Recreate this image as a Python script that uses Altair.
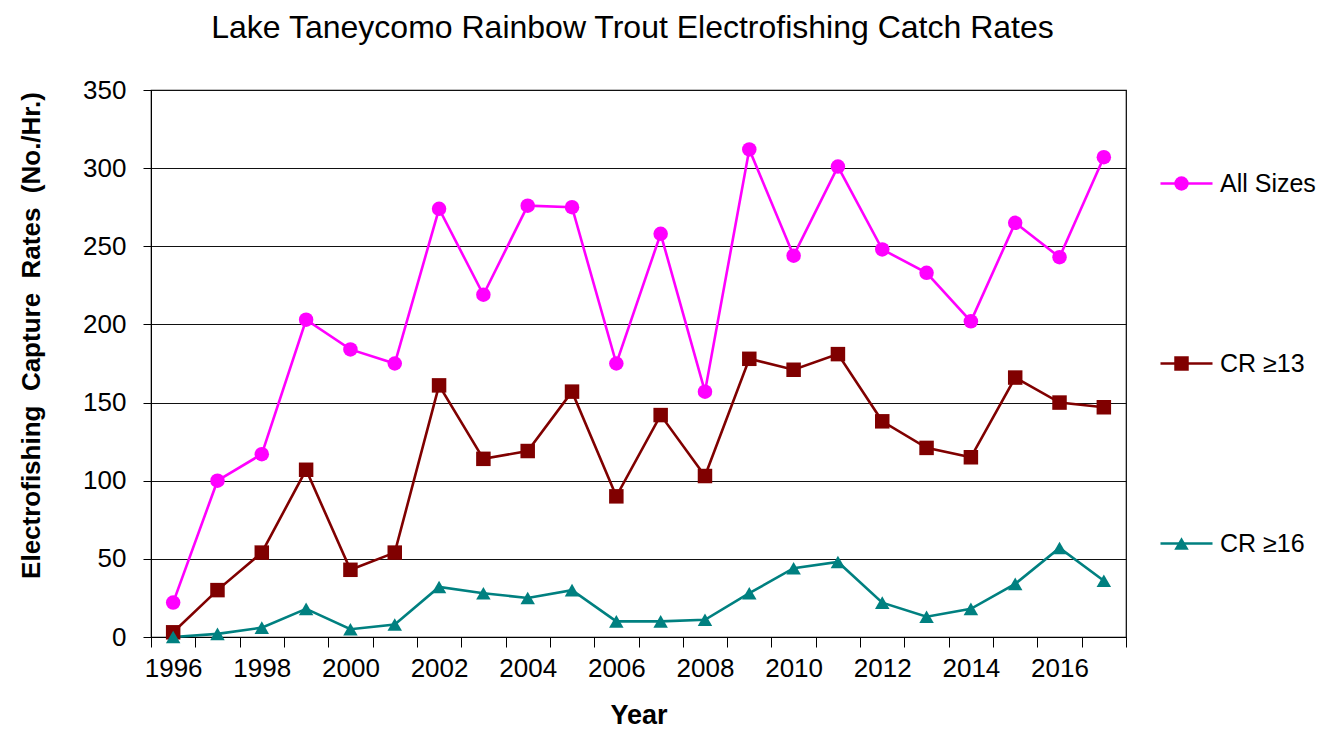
import altair as alt
import pandas as pd

years = list(range(1996, 2018))
all_sizes = [22, 100, 117, 203, 184, 175, 274, 219, 276, 275, 175, 258, 157, 312, 244, 301, 248, 233, 202, 265, 243, 307]
cr_13 = [3, 30, 54, 107, 43, 54, 161, 114, 119, 157, 90, 142, 103, 178, 171, 181, 138, 121, 115, 166, 150, 147]
cr_16 = [0, 2, 6, 18, 5, 8, 32, 28, 25, 30, 10, 10, 11, 28, 44, 48, 22, 13, 18, 34, 57, 36]

series_names = ["All Sizes", "CR ≥13", "CR ≥16"]
series_colors = ["#FF00FF", "#800000", "#008080"]
marker_shapes = ["circle", "square", "triangle-up"]

series_col = [s for s, vals in zip(series_names, (all_sizes, cr_13, cr_16)) for _ in vals]
df = pd.DataFrame({
    "year": years * 3,
    "series": series_col,
    "marker": series_col,  # second copy so the marker legend stays separate from the line legend
    "rate": all_sizes + cr_13 + cr_16,
})

FONT = "Liberation Sans"
MARK_SIZE = 210

# line keys of the legend (visible labels)
line_legend = alt.Legend(
    title=None,
    orient="none",
    legendX=1008,
    legendY=66,
    padding=0,
    symbolType="stroke",
    symbolSize=2704,
    symbolStrokeWidth=2.5,
    labelFont=FONT,
    labelFontSize=25,
    labelColor="black",
    labelOffset=6,
    rowPadding=139,
)
# marker keys drawn over the middle of the line keys, without labels
marker_legend = alt.Legend(
    title=None,
    orient="none",
    legendX=1023,
    legendY=86,
    padding=0,
    symbolSize=MARK_SIZE,
    symbolStrokeWidth=0,
    labelExpr="''",
    labelOpacity=0,
    rowPadding=165,
)

x = alt.X(
    "year:O",
    title="Year",
    scale=alt.Scale(type="band", paddingInner=0, paddingOuter=0),
    axis=alt.Axis(
        tickBand="extent",
        labelExpr="datum.value % 2 === 0 ? datum.label : ''",
        labelAngle=0,
        labelOverlap=False,
        labelFontSize=26,
        labelPadding=8,
        labelColor="black",
        tickSize=10,
        tickColor="black",
        domainColor="black",
        grid=False,
        titleFontSize=27,
        titleFontWeight="bold",
        titleColor="black",
        titleBaseline="alphabetic",
        titleY=86,
    ),
)

y = alt.Y(
    "rate:Q",
    scale=alt.Scale(domain=[0, 350], nice=False),
    axis=alt.Axis(
        values=list(range(0, 351, 50)),
        title="Electrofishing\u00a0 Capture\u00a0 Rates\u00a0 (No./Hr.)",
        tickSize=8,
        tickColor="black",
        domainColor="black",
        labelFontSize=26,
        labelPadding=17,
        labelColor="black",
        gridColor="#111111",
        gridWidth=1.2,
        titleFontSize=26,
        titleFontWeight="bold",
        titleColor="black",
        titleAngle=270,
        titleAlign="center",
        titleBaseline="alphabetic",
        titleX=-112,
        titleY=245,
    ),
)

base = alt.Chart(df).encode(x=x, y=y)
lines = base.mark_line(strokeWidth=2.6).encode(
    stroke=alt.Stroke("series:N", scale=alt.Scale(domain=series_names, range=series_colors), legend=line_legend),
)
points = base.mark_point(filled=True, opacity=1, size=MARK_SIZE).encode(
    fill=alt.Fill("marker:N", scale=alt.Scale(range=series_colors), legend=marker_legend),
    shape=alt.Shape("marker:N", scale=alt.Scale(range=marker_shapes), legend=marker_legend),
)

chart = (
    alt.layer(lines, points)
    .properties(
        width=975,
        height=547,
        autosize="none",
        padding={"left": 143, "top": 82, "right": 200, "bottom": 94},
        title=alt.TitleParams(
            "Lake Taneycomo Rainbow Trout Electrofishing Catch Rates",
            font=FONT,
            fontSize=32,
            fontWeight="normal",
            color="black",
            anchor="middle",
            baseline="alphabetic",
            offset=7,
            dx=-6,
        ),
    )
    .configure(font=FONT)
    .configure_axis(labelFont=FONT, titleFont=FONT)
    .configure_view(stroke="black", strokeWidth=1.2)
)

chart.save("out.html", embed_options={"renderer": "svg", "actions": False})
